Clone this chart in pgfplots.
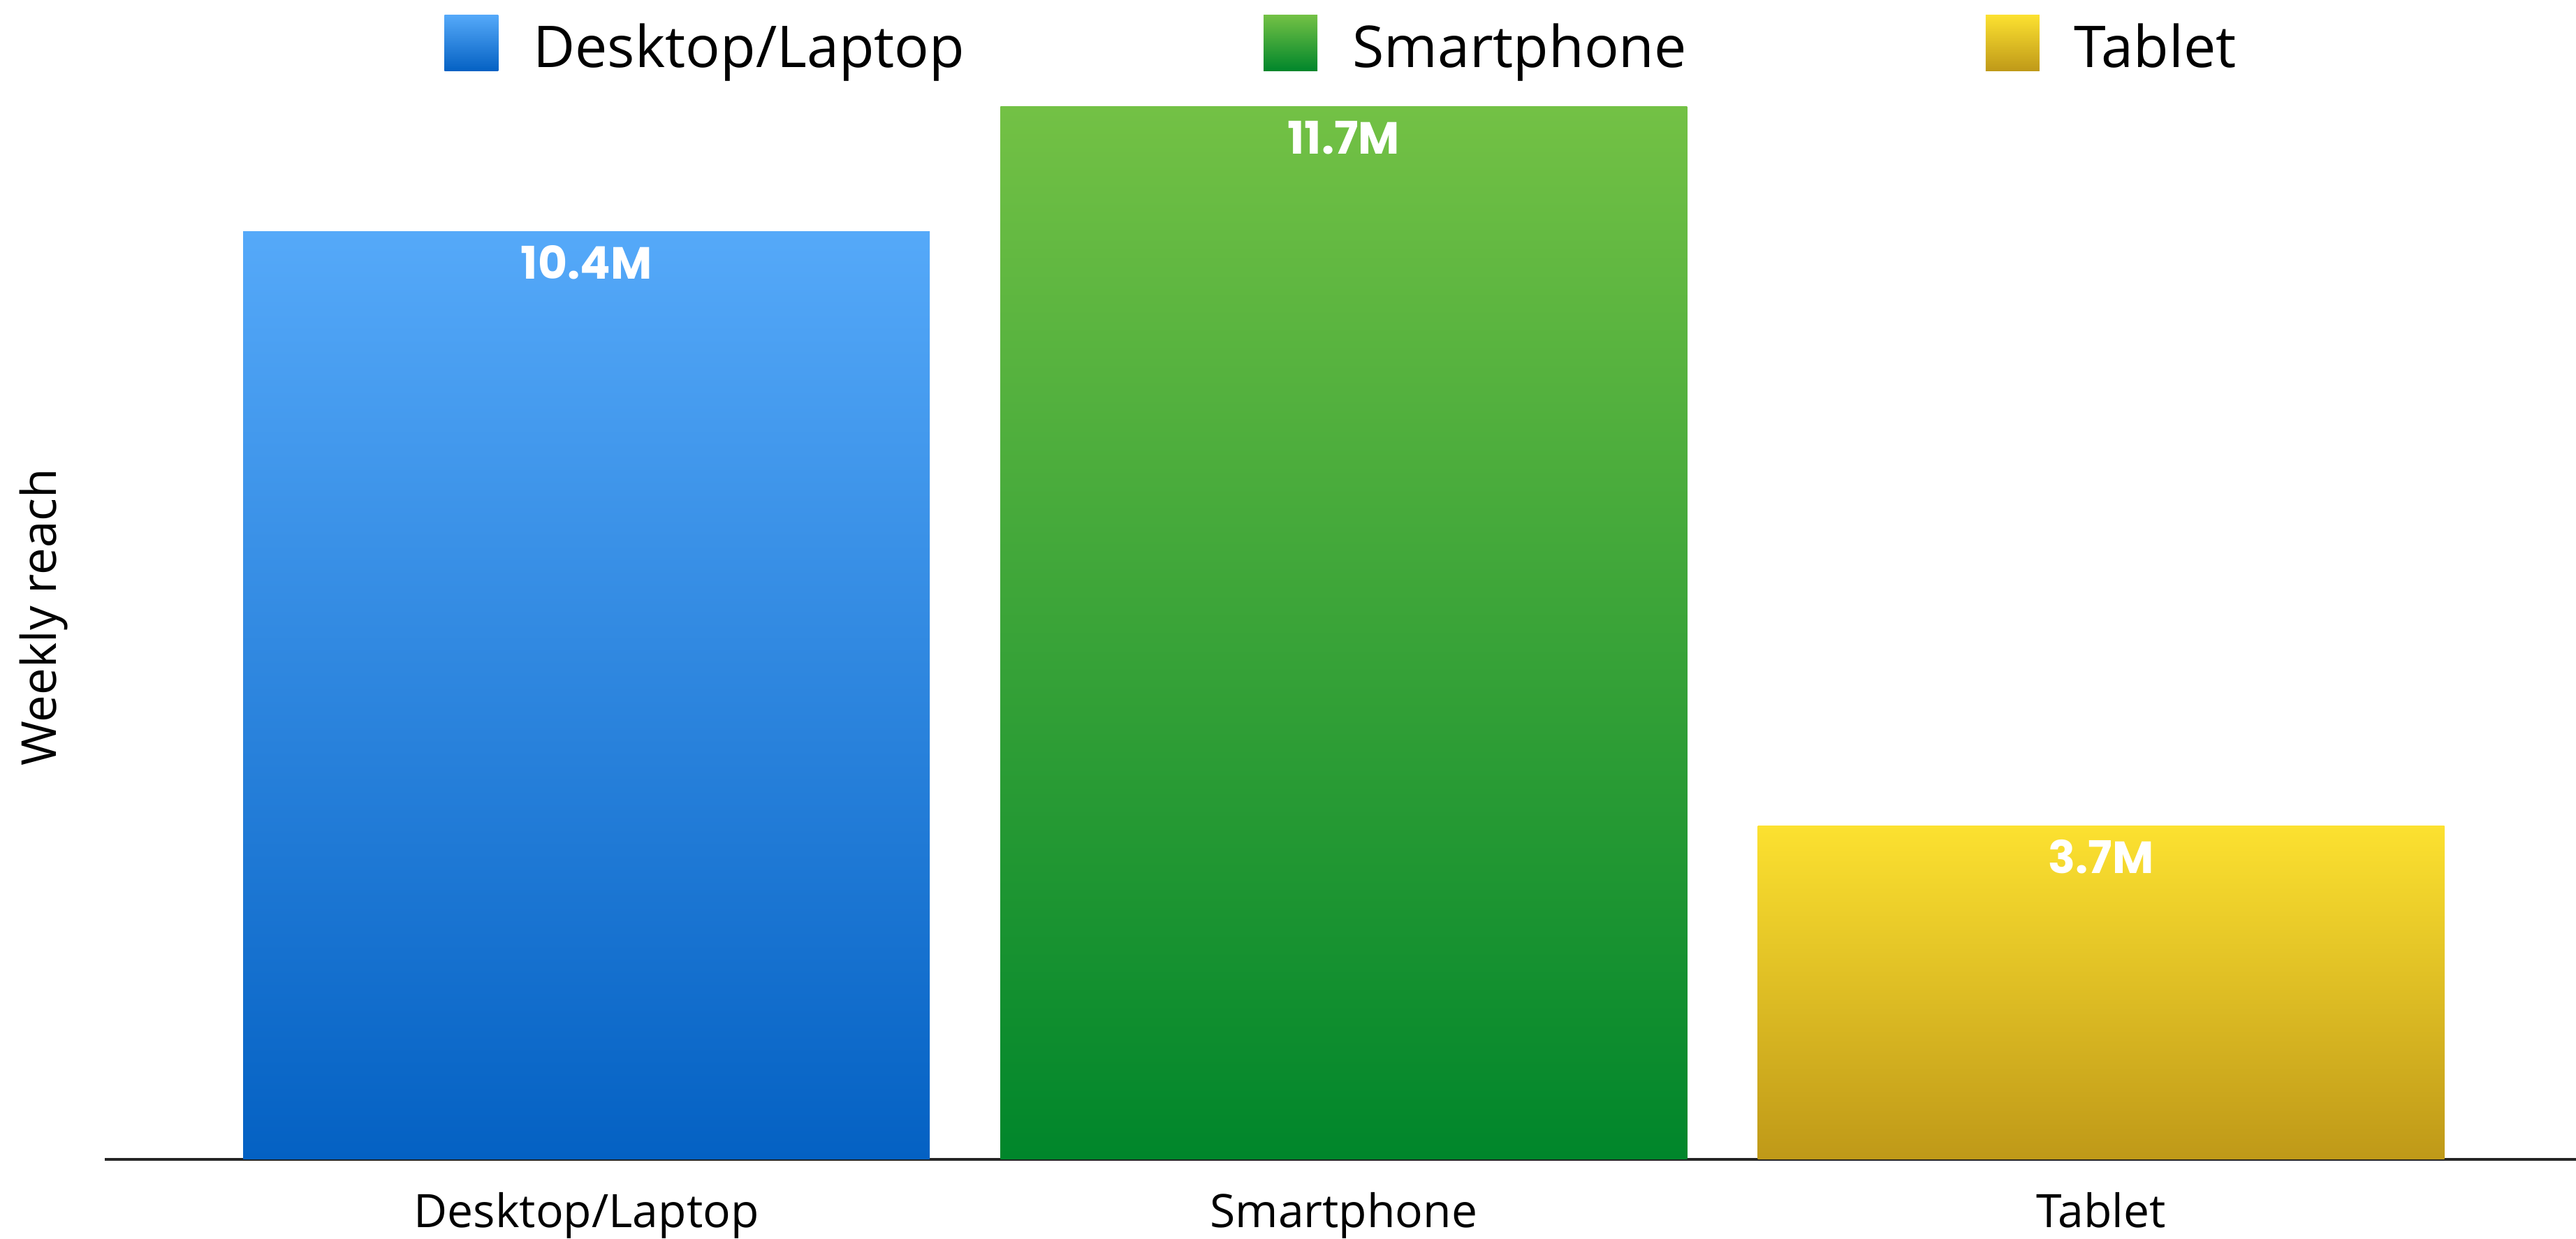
\documentclass[border=0pt]{standalone}
\usepackage{fontspec}
\setmainfont{Open Sans}
\newfontfamily\valfont{Poppins}
\usepackage{pgfplots}
\pgfplotsset{compat=1.18}
\definecolor{blueT}{HTML}{55A9F9}
\definecolor{blueB}{HTML}{0461C3}
\definecolor{greenT}{HTML}{73C145}
\definecolor{greenB}{HTML}{00862B}
\definecolor{yelT}{HTML}{FCE130}
\definecolor{yelB}{HTML}{BF9918}
\begin{document}
\begin{tikzpicture}
\useasboundingbox (-30pt,-22.8pt) rectangle (707.6pt,332pt);
\begin{axis}[
  at={(0,0)}, anchor=south west,
  width=707.6pt, height=301.4pt, scale only axis,
  xmin=-0.636, xmax=2.627, ymin=0, ymax=11.74,
  axis x line*=bottom, axis y line*=left,
  y axis line style={draw=none},
  x axis line style={line width=0.8pt, color=black!85},
  xtick={0,1,2}, xticklabels={Desktop/Laptop,Smartphone,Tablet},
  major tick length=0pt,
  xticklabel style={font=\fontsize{13.2}{15}\selectfont, anchor=north, yshift=-6pt},
  ytick=\empty,
  ylabel={Weekly reach},
  every axis y label/.style={at={(axis description cs:-0.0246,0.515)}, rotate=90, anchor=center, font=\fontsize{13.8}{15}\selectfont},
  ybar, bar width=196.6pt, bar shift=0pt,
  /pgf/number format/assume math mode=true,
  nodes near coords={\pgfmathprintnumber[fixed,precision=1,assume math mode=true]{\pgfplotspointmeta}M},
  every node near coord/.append style={anchor=north, inner sep=0pt, yshift=-3.8pt, text=white, font=\valfont\bfseries\fontsize{12.9}{14}\selectfont},
  legend columns=3,
  legend cell align=left,
  legend style={at={(0.5,1)}, anchor=center, yshift=18.1pt, draw=none, fill=none, font=\fontsize{16.5}{19}\selectfont, inner sep=0pt, nodes={inner sep=0pt}},
  /tikz/every odd column/.append style={column sep=10pt},
  /tikz/every even column/.append style={column sep=85.6pt},
  legend image code/.code={\path[#1, draw=none] (0.6pt,-6.6pt) rectangle (16pt,9.4pt);},
  clip=false,
]
\addplot[draw=none, top color=blueT, bottom color=blueB] coordinates {(0,10.35)};
\addlegendentry{Desktop/Laptop}
\addplot[draw=none, top color=greenT, bottom color=greenB] coordinates {(1,11.74)};
\addlegendentry{Smartphone}
\addplot[draw=none, top color=yelT, bottom color=yelB] coordinates {(2,3.72)};
\addlegendentry{Tablet}
\end{axis}
\end{tikzpicture}
\end{document}
